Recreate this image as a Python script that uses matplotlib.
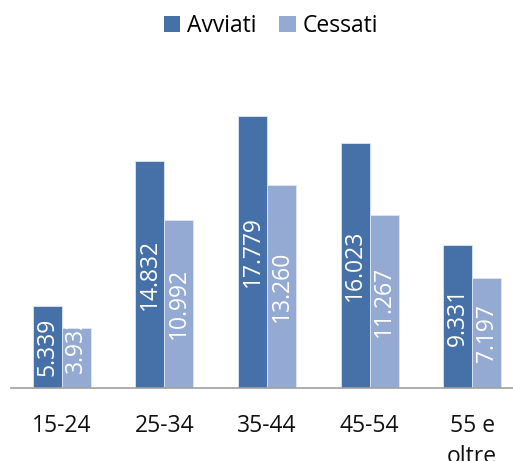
import matplotlib
matplotlib.use("Agg")
import matplotlib.pyplot as plt
import numpy as np

categories = ["15-24", "25-34", "35-44", "45-54", "55 e\noltre"]
avviati = [5339, 14832, 17779, 16023, 9331]
cessati = [3932, 10992, 13260, 11267, 7197]
series_names = ["Avviati", "Cessati"]
colors = ["#4670A8", "#94AAD2"]

plt.rcParams['font.family'] = ['Open Sans', 'DejaVu Sans']

W, H = 513, 461
fig = plt.figure(figsize=(W / 100, H / 100), dpi=100)
ax = fig.add_axes([10.5 / W, 73 / H, 513 / W, 388 / H])

x = np.arange(len(categories))
bw = 0.283
fs = 16.5

bars_all = []
for k, (vals, col) in enumerate(zip([avviati, cessati], colors)):
    offs = (k - 0.5) * bw
    bars = ax.bar(x + offs, vals, bw, color=col, edgecolor="#dde6f2", linewidth=0.6,
                  label=series_names[k], zorder=2)
    bars_all.append(bars)

ax.set_xlim(-0.5, 4.5)
ax.set_ylim(0, 388 * 65.3)

fig.canvas.draw()
renderer = fig.canvas.get_renderer()
for bars, vals in zip(bars_all, [avviati, cessati]):
    for b, v in zip(bars, vals):
        lbl = f"{v:,}".replace(",", ".")
        cx = b.get_x() + b.get_width() / 2
        t = ax.text(cx, v / 2, lbl, rotation=90, ha="center", va="center",
                    color="white", fontsize=fs, zorder=3)
        bb = t.get_window_extent(renderer)
        bar_bb = b.get_window_extent(renderer)
        if bb.height > bar_bb.height - 10:
            # does not fit: anchor near the bottom and clip to the bar
            y0 = ax.transData.inverted().transform((0, bar_bb.y0 + 15))[1]
            t.set_y(y0)
            t.set_va("bottom")
            t.set_clip_path(b)

for s in ["top", "right", "left"]:
    ax.spines[s].set_visible(False)
ax.spines["bottom"].set_color("#a0a0a0")
ax.spines["bottom"].set_linewidth(1.2)
ax.set_yticks([])
ax.set_xticks(x)
ax.set_xticklabels(categories, fontsize=fs, color="#111111", linespacing=1.38)
ax.tick_params(axis="x", length=0, pad=19)

leg = fig.legend(loc="center", bbox_to_anchor=(271 / W, 1 - 26 / H), ncol=2,
                 frameon=False, fontsize=fs, handlelength=0.7, handleheight=0.7,
                 handletextpad=0.3, columnspacing=1.0)
for h in leg.legend_handles:
    h.set_edgecolor("none")

fig.savefig("out.png", dpi=100)
